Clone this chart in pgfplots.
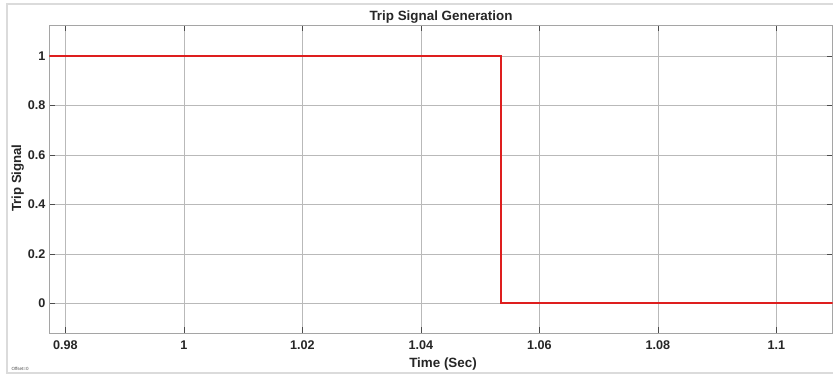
\documentclass[border=0pt]{standalone}
\usepackage{pgfplots}
\pgfplotsset{compat=1.18}
\usepackage{fontspec}
\setmainfont{Liberation Sans}
\definecolor{sigred}{RGB}{222,30,30}
\definecolor{gridc}{RGB}{185,185,185}
\definecolor{boxc}{RGB}{165,165,165}
\begin{document}
\begin{tikzpicture}
\useasboundingbox (0pt,0pt) rectangle (833pt,375pt);
\fill[white] (0pt,0pt) rectangle (833pt,375pt);
\draw[black!14, line width=1.6pt] (6.7pt,1.8pt) rectangle (845pt,371pt);
\pgfplotsset{every axis title shift=0pt}
\begin{axis}[
  at={(49.3pt,42pt)}, anchor=south west,
  width=783.4pt, height=308pt, scale only axis,
  xmin=0.9773, xmax=1.1095,
  ymin=-0.12, ymax=1.125,
  xtick={0.98,1,1.02,1.04,1.06,1.08,1.1},
  xticklabels={0.98,1,1.02,1.04,1.06,1.08,1.1},
  ytick={0,0.2,0.4,0.6,0.8,1},
  yticklabels={0,0.2,0.4,0.6,0.8,1},
  tick align=inside,
  major tick length=6pt,
  tick style={black!70, line width=0.6pt},
  axis line style={boxc, line width=0.8pt},
  grid=major,
  major grid style={gridc, line width=0.6pt},
  /pgf/number format/assume math mode=true,
  ticklabel style={font=\bfseries\fontsize{12.6}{14}\selectfont, text=black!85},
  xticklabel style={yshift=-4.5pt},
  yticklabel style={xshift=-0.3pt},
  title={Trip Signal Generation},
  title style={at={(axis description cs:0.5,1.0162)}, anchor=base, font=\bfseries\fontsize{13.4}{15}\selectfont, text=black!85},
  xlabel={Time (Sec)},
  xlabel style={at={(axis description cs:0.5026,-0.1104)}, anchor=base, font=\bfseries\fontsize{13.4}{15}\selectfont, text=black!85},
  ylabel={Trip Signal},
  ylabel style={at={(axis description cs:-0.0361,0.503)}, anchor=base, rotate=0, font=\bfseries\fontsize{13.2}{15}\selectfont, text=black!85},
  clip=true,
]
\addplot[sigred, line width=2.3pt, line join=miter] coordinates {
  (0.97,1) (1.0535,1) (1.0535,0) (1.12,0)
};
\end{axis}
\node[font=\fontsize{4.5}{5}\selectfont, text=black!70, anchor=base west] at (8pt,5pt) {Offset=0};
\end{tikzpicture}
\end{document}
